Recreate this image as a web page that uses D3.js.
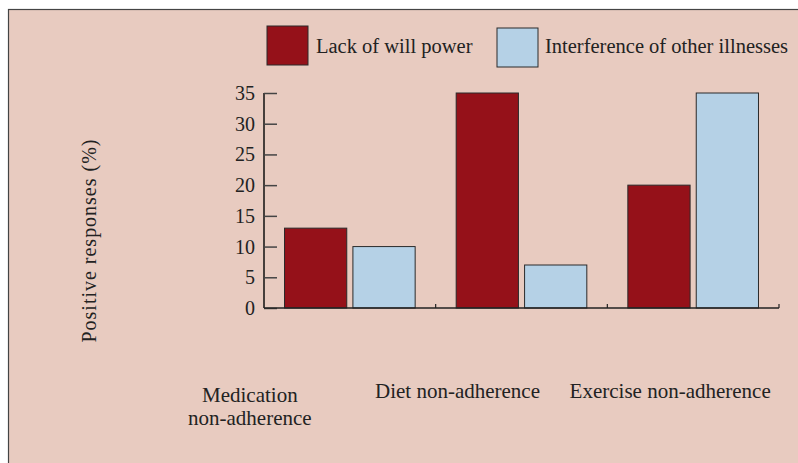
<!DOCTYPE html>
<html><head><meta charset="utf-8">
<script src="https://cdn.jsdelivr.net/npm/d3@7"></script>
<style>html,body{margin:0;padding:0;background:#fff;}svg{display:block;}</style>
</head><body>
<script>
const categories = ["Medication non-adherence", "Diet non-adherence", "Exercise non-adherence"];
const categoryLines = [["Medication", "non-adherence"], ["Diet non-adherence"], ["Exercise non-adherence"]];
const seriesNames = ["Lack of will power", "Interference of other illnesses"];
const lackOfWillPower = [13, 35, 20];
const interference = [10, 7, 35];
const yTicks = [0, 5, 10, 15, 20, 25, 30, 35];
const colors = ["#951119", "#b5d1e6"];

const W = 798, H = 463;
const svg = d3.select("body").append("svg").attr("width", W).attr("height", H);
const font = "'Liberation Serif', 'DejaVu Serif', serif";

svg.append("rect").attr("x", 8.5).attr("y", 9.5).attr("width", W).attr("height", H)
  .attr("fill", "#e8cbc0").attr("stroke", "#444").attr("stroke-width", 1.2);

const x0 = 264, x1 = 779, yBase = 308, yTop = 93;
const x = d3.scaleBand().domain(categories).range([x0, x1]).paddingInner(0).paddingOuter(0);
const xs = d3.scaleBand().domain(seriesNames).range([0, x.bandwidth()]).paddingInner(0.09).paddingOuter(0.3);
const y = d3.scaleLinear().domain([0, 35]).range([yBase, yTop]);

const data = categories.map((c, i) => ({cat: c, vals: [lackOfWillPower[i], interference[i]]}));

const g = svg.append("g");
data.forEach(d => {
  d.vals.forEach((v, j) => {
    g.append("rect")
      .attr("x", x(d.cat) + xs(seriesNames[j]))
      .attr("y", y(v))
      .attr("width", xs.bandwidth())
      .attr("height", y(0) - y(v))
      .attr("fill", colors[j]).attr("stroke", "#2a2a2a").attr("stroke-width", 1);
  });
});

// y axis
const yAxis = d3.axisRight(y).tickValues(yTicks).tickSize(13).tickFormat("");
const ya = svg.append("g").attr("transform", `translate(${x0},0)`).call(yAxis);
ya.select(".domain").attr("stroke", "#111").attr("stroke-width", 1.5).attr("d", `M0,${yTop}V${yBase}`);
ya.selectAll(".tick line").attr("stroke", "#444").attr("stroke-width", 1.5);
yTicks.forEach(t => {
  svg.append("text").attr("x", 255).attr("y", y(t) + 7).attr("text-anchor", "end")
    .attr("font-family", font).attr("font-size", 20).attr("fill", "#222").text(t);
});

// x axis
const xb = [x0, x0 + x.bandwidth(), x0 + 2 * x.bandwidth(), x1];
svg.append("line").attr("x1", x0).attr("x2", x1).attr("y1", yBase).attr("y2", yBase)
  .attr("stroke", "#222").attr("stroke-width", 1.5);
xb.slice(1).forEach(v => {
  svg.append("line").attr("x1", v).attr("x2", v).attr("y1", yBase).attr("y2", yBase - 4)
    .attr("stroke", "#222").attr("stroke-width", 1.2);
});

// category labels
const labelOffsets = [-100, -64, -23];
categoryLines.forEach((lines, i) => {
  const cx = x(categories[i]) + x.bandwidth() / 2 + labelOffsets[i];
  const y0 = lines.length > 1 ? 402 : 398;
  lines.forEach((ln, k) => {
    svg.append("text").attr("x", cx).attr("y", y0 + k * 23).attr("text-anchor", "middle")
      .attr("font-family", font).attr("font-size", 21).attr("fill", "#222").text(ln);
  });
});

// y label
svg.append("text").attr("transform", "translate(96,241) rotate(-90)").attr("text-anchor", "middle")
  .attr("font-family", font).attr("font-size", 20).attr("fill", "#222")
  .attr("textLength", 203).attr("lengthAdjust", "spacing").text("Positive responses (%)");

// legend
const legX = [267, 497], legTextX = [316, 545];
seriesNames.forEach((s, j) => {
  svg.append("rect").attr("x", legX[j]).attr("y", j === 0 ? 26 : 28).attr("width", 41).attr("height", 39)
    .attr("fill", colors[j]).attr("stroke", "#2a2a2a").attr("stroke-width", 1);
  svg.append("text").attr("x", legTextX[j]).attr("y", 53).attr("font-family", font)
    .attr("font-size", 20.5).attr("fill", "#222").text(s);
});
</script>
</body></html>
